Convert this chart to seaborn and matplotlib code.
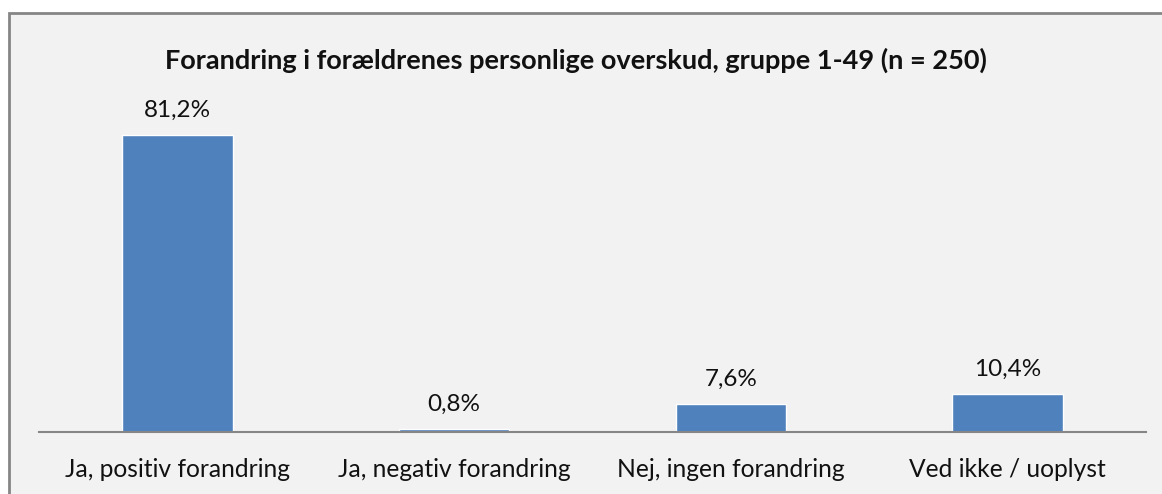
import matplotlib
matplotlib.use("Agg")
import matplotlib.pyplot as plt
import seaborn as sns
import pandas as pd
from matplotlib.patches import Rectangle

# chart data
categories = ["Ja, positiv forandring", "Ja, negativ forandring",
              "Nej, ingen forandring", "Ved ikke / uoplyst"]
values = [81.2, 0.8, 7.6, 10.4]
title = "Forandring i forældrenes personlige overskud, gruppe 1-49 (n = 250)"

df = pd.DataFrame({"kategori": categories, "andel": values})

sns.set_theme(style="white")
plt.rcParams["font.family"] = ["Lato", "DejaVu Sans"]

W, H = 1162, 494
fig = plt.figure(figsize=(W / 100, H / 100), dpi=100)
fig.patch.set_facecolor("white")

# grey chart area with border on left/top (rest is cropped off)
bg = Rectangle((9 / W, -0.2), 1.2, (H - 13) / H + 0.2, transform=fig.transFigure,
               facecolor="#f2f2f2", edgecolor="#868686", linewidth=2, zorder=-10)
fig.add_artist(bg)

ax = fig.add_axes([39 / W, (H - 432) / H, (1146 - 39) / W, (432 - 103) / H])
ax.set_facecolor("none")

sns.barplot(data=df, x="kategori", y="andel", color="#4f81bd", width=0.4,
            saturation=1, ax=ax)

ax.set_ylim(0, 90)
ax.set_yticks([])
ax.set_xlabel("")
ax.set_ylabel("")
for side in ["left", "right", "top"]:
    ax.spines[side].set_visible(False)
ax.spines["bottom"].set_color("#868686")
ax.spines["bottom"].set_linewidth(1.5)
ax.tick_params(axis="x", length=0, pad=19, labelsize=17.7, labelcolor="#111111")

for i, v in enumerate(values):
    ax.annotate(f"{v:.1f}".replace(".", ",") + "%", (i, v),
                xytext=(0, 10), textcoords="offset points",
                ha="center", va="bottom", fontsize=17.5, color="#111111")

fig.text(576 / W, 1 - 60 / H, title, ha="center", va="center",
         fontsize=19.5, fontweight="bold", color="#111111")

fig.savefig("out.png", dpi=100)
